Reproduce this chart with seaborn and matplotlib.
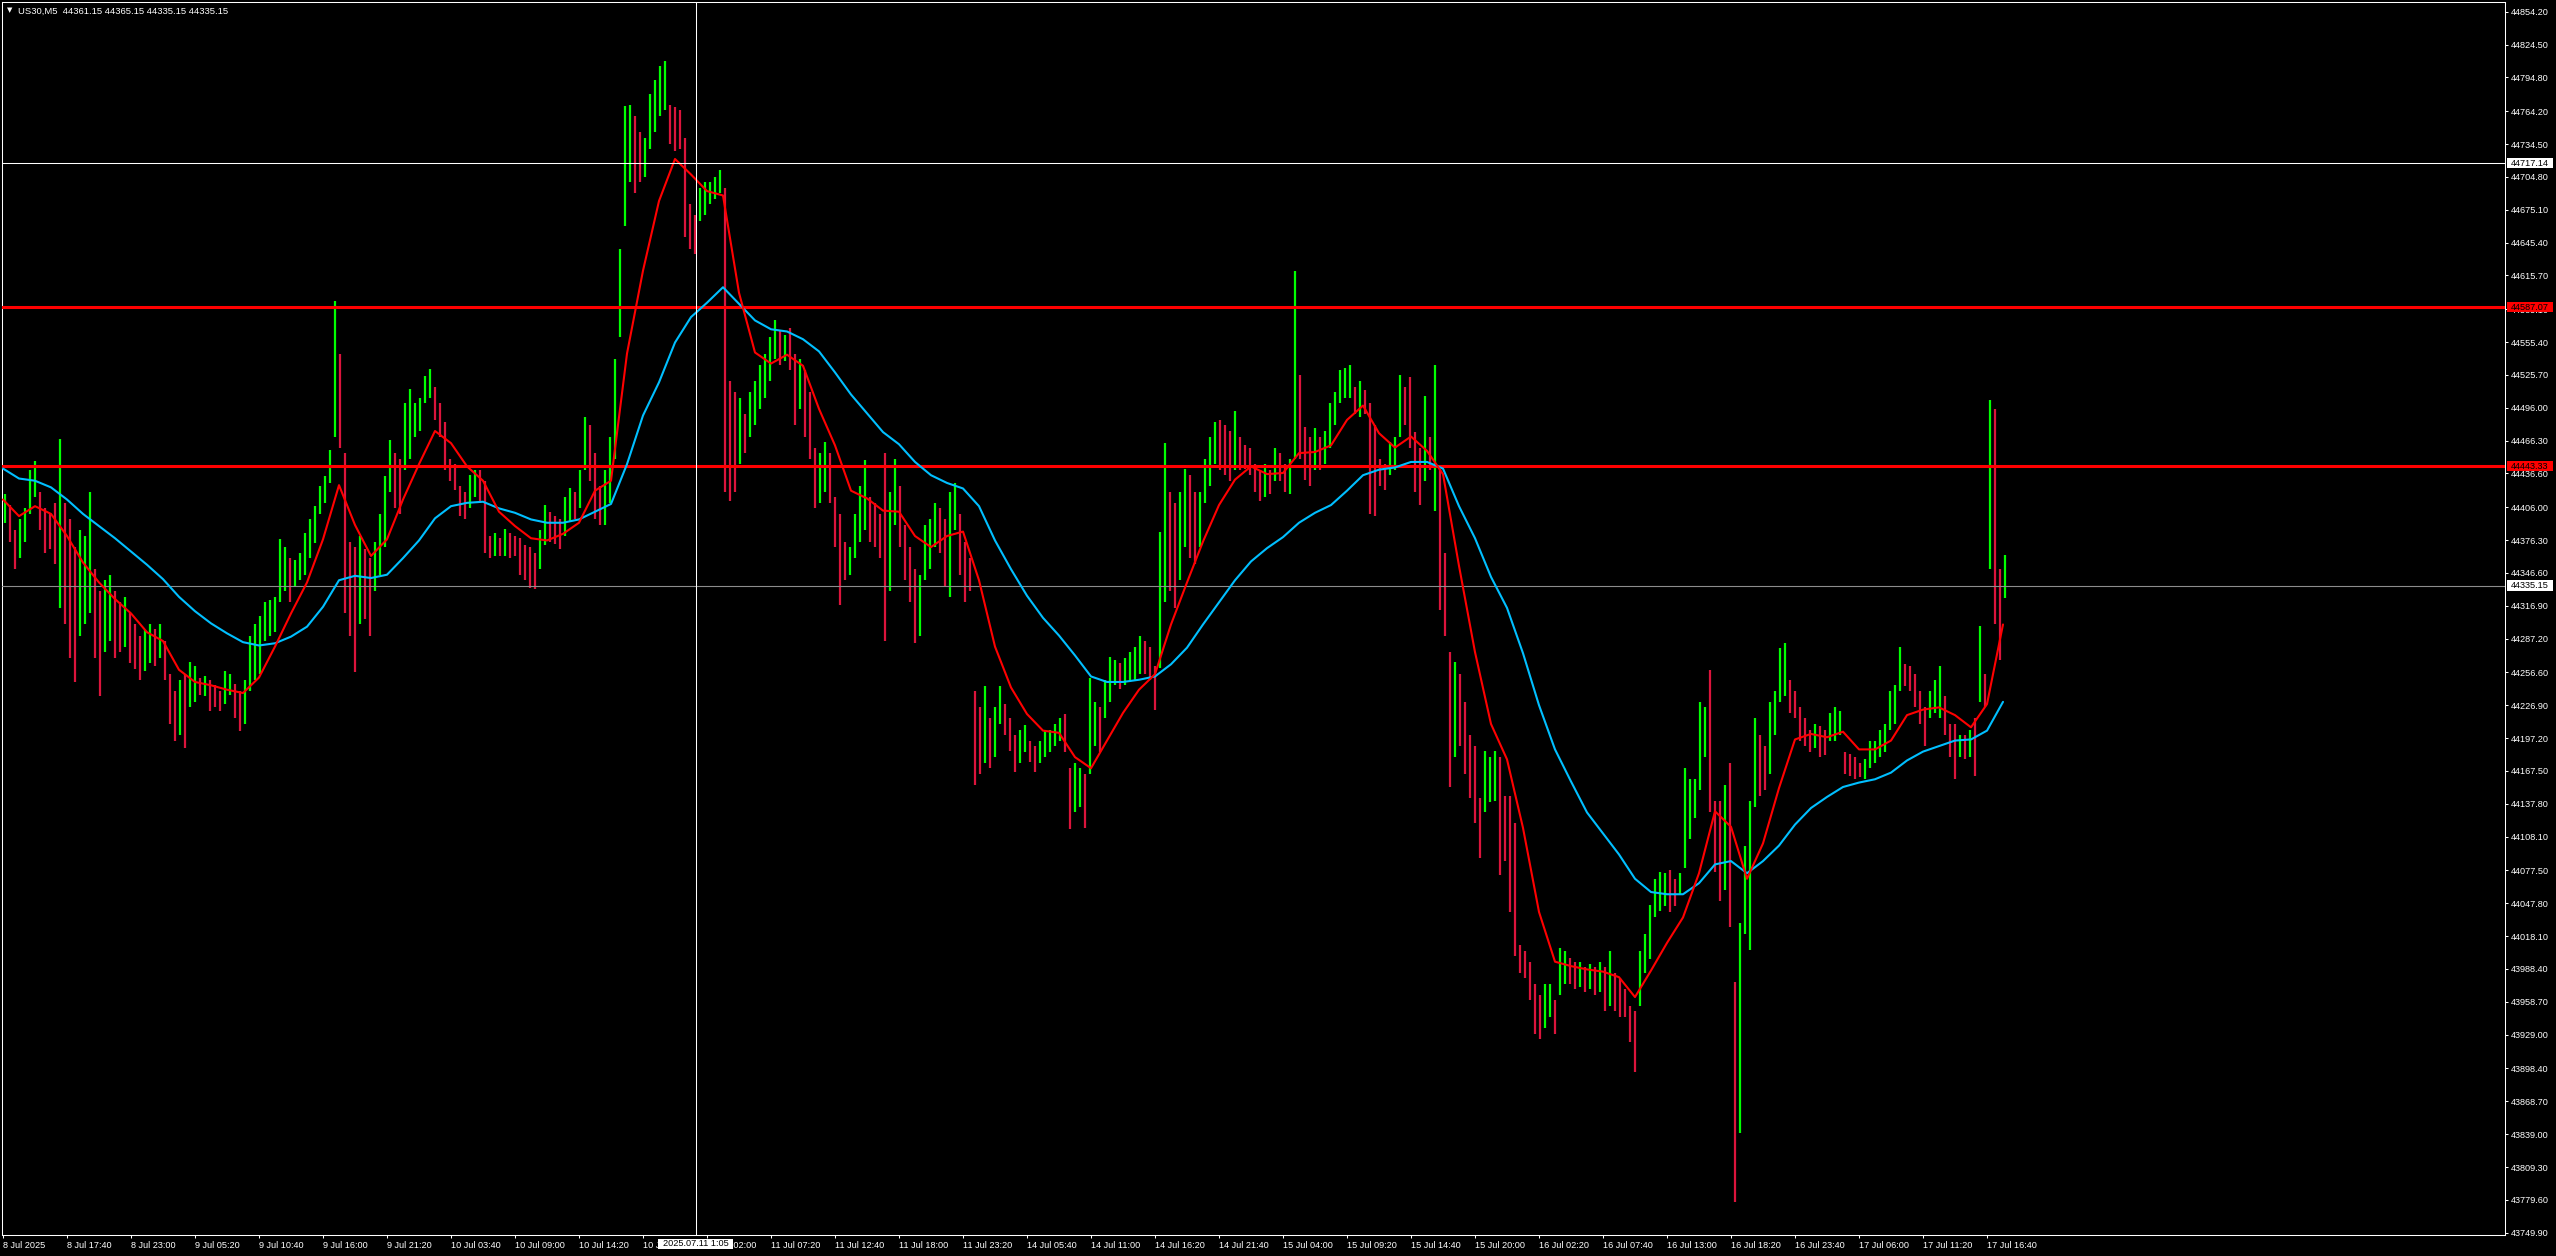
import numpy as np
import matplotlib
matplotlib.use("Agg")
import matplotlib.pyplot as plt
import seaborn as sns
from matplotlib.patches import Rectangle
from matplotlib.transforms import blended_transform_factory

# --- данные ---
chart_title = "US30,M5  44361.15 44365.15 44335.15 44335.15"

# high / low групп баров (по 5 баров M5 в группе)
bar_high = [
    44418, 44408, 44385, 44395, 44405, 44440, 44448, 44420, 44405, 44400,
    44410, 44468, 44410, 44395, 44370, 44385, 44380, 44420, 44350, 44330,
    44340, 44345, 44330, 44320, 44325, 44310, 44300, 44290, 44295, 44300,
    44296, 44300, 44285, 44255, 44240, 44250, 44255, 44266, 44262, 44252,
    44253, 44250, 44245, 44240, 44258, 44255, 44246, 44240, 44250, 44290,
    44300, 44308, 44320, 44322, 44325, 44377, 44370, 44360, 44358, 44365,
    44383, 44395, 44407, 44425, 44434, 44458, 44593, 44545, 44455, 44375,
    44370, 44380, 44368, 44360, 44375, 44400, 44434, 44467, 44455, 44450,
    44500, 44513, 44500, 44505, 44525, 44531, 44515, 44500, 44483, 44450,
    44445, 44425, 44420, 44435, 44440, 44440, 44430, 44380, 44383, 44378,
    44386, 44383, 44380, 44378, 44372, 44370, 44365, 44385, 44408, 44402,
    44398, 44395, 44415, 44423, 44420, 44440, 44488, 44480, 44455, 44425,
    44440, 44470, 44540, 44640, 44769, 44770, 44760, 44745, 44740, 44780,
    44792, 44805, 44810, 44770, 44768, 44765, 44740, 44680, 44670, 44695,
    44700, 44700, 44705, 44711, 44695, 44520, 44510, 44505, 44490, 44510,
    44520, 44535, 44545, 44560, 44575, 44565, 44562, 44568, 44545, 44540,
    44530, 44510, 44460, 44455, 44465, 44455, 44415, 44400, 44375, 44370,
    44400, 44425, 44449, 44415, 44410, 44400, 44455, 44420, 44450, 44425,
    44390, 44370, 44350, 44345, 44390, 44395, 44410, 44405, 44395, 44420,
    44428, 44400, 44375, 44360, 44240, 44225, 44244, 44215, 44225, 44244,
    44228, 44215, 44200, 44205, 44209, 44195, 44190, 44195, 44205, 44205,
    44210, 44215, 44219, 44170, 44175, 44170, 44165, 44252, 44230, 44225,
    44250, 44271, 44268, 44265, 44270, 44275, 44280, 44290, 44285, 44280,
    44262, 44384, 44464, 44420, 44410, 44420, 44441, 44435, 44420, 44420,
    44450, 44470, 44483, 44485, 44480, 44475, 44493, 44470, 44462, 44460,
    44445, 44440, 44445, 44440, 44460, 44455, 44445, 44450, 44620, 44526,
    44479, 44470, 44478, 44470, 44475, 44500, 44510, 44530, 44532, 44535,
    44515, 44520, 44512, 44500, 44480, 44450, 44445, 44465, 44470, 44526,
    44515, 44524, 44474, 44460, 44507, 44470, 44535, 44441, 44365, 44275,
    44266, 44255, 44230, 44200, 44190, 44143, 44186, 44180, 44186, 44180,
    44145, 44145, 44120, 44010, 44005, 43995, 43975, 43965, 43975, 43975,
    43960, 44007, 44005, 43998, 43995, 43995, 43990, 43993, 43990, 43995,
    43990, 44005, 43985, 43980, 43970, 43955, 43950, 44005, 44020, 44046,
    44070, 44076, 44075, 44078, 44070, 44075, 44170, 44160, 44160, 44230,
    44225, 44259, 44140, 44140, 44155, 44175, 43977, 44030, 44100, 44140,
    44215, 44200, 44190, 44230, 44240, 44279, 44283, 44250, 44240, 44225,
    44215, 44205, 44210, 44208, 44205, 44220, 44225, 44222, 44185, 44183,
    44180, 44175, 44178, 44195, 44195, 44205, 44210, 44240, 44245, 44280,
    44264, 44262, 44255, 44240, 44225, 44240, 44250, 44262, 44235, 44210,
    44210, 44200, 44200, 44205, 44215, 44299, 44255, 44503, 44495, 44350,
    44363,
]
bar_low = [
    44392, 44375, 44350, 44360, 44375, 44400, 44415, 44385, 44365, 44368,
    44355, 44315, 44300, 44270, 44248, 44290, 44300, 44310, 44270, 44235,
    44275, 44285, 44270, 44275, 44280, 44265, 44260, 44250, 44258, 44265,
    44262, 44270, 44250, 44210, 44195, 44200, 44188, 44225, 44230, 44236,
    44235, 44222, 44225, 44222, 44228, 44236, 44215, 44204, 44210, 44240,
    44250, 44255, 44285, 44290, 44293, 44320, 44330, 44320, 44335, 44340,
    44345, 44360, 44374, 44400, 44410, 44428, 44470, 44460, 44310, 44290,
    44257, 44300, 44305, 44290, 44330, 44345, 44370, 44420, 44405, 44400,
    44440, 44450, 44470, 44475, 44500, 44505, 44485, 44470, 44440, 44430,
    44422, 44398, 44395, 44405, 44415, 44410, 44365, 44360, 44362, 44362,
    44362, 44360, 44362, 44345, 44340, 44333, 44332, 44350, 44372, 44375,
    44373, 44368, 44380, 44393, 44395, 44405, 44440, 44430, 44395, 44390,
    44390, 44410, 44450, 44560, 44660, 44700, 44690, 44700, 44705, 44730,
    44745, 44760, 44765, 44735, 44728, 44730, 44650, 44640, 44635, 44665,
    44670, 44680, 44685, 44690, 44420, 44412, 44420, 44445, 44455, 44470,
    44480, 44495, 44505, 44520, 44540, 44535, 44538, 44530, 44480, 44495,
    44470, 44450, 44405, 44410, 44420, 44410, 44370, 44318, 44340, 44345,
    44360, 44375, 44385, 44375, 44370, 44360, 44285, 44330, 44390, 44370,
    44340, 44320, 44283, 44290, 44340, 44350, 44370, 44365, 44335, 44325,
    44385, 44345, 44320, 44330, 44155, 44165, 44175, 44170, 44180, 44210,
    44200, 44186, 44167, 44175, 44185, 44176, 44167, 44175, 44180, 44185,
    44190, 44195, 44185, 44115, 44130, 44135, 44116, 44165, 44190, 44185,
    44215, 44230, 44245, 44242, 44245, 44248, 44250, 44255, 44255, 44250,
    44223, 44261, 44320, 44330, 44315, 44340, 44370, 44360, 44355, 44370,
    44410, 44425, 44445, 44440, 44435, 44430, 44440, 44440, 44441, 44435,
    44420, 44412, 44415, 44418, 44430, 44430, 44420, 44418, 44450, 44450,
    44431, 44425, 44440, 44440, 44445, 44460, 44480, 44500, 44505, 44505,
    44490, 44488, 44490, 44400, 44398, 44425, 44422, 44435, 44440, 44470,
    44480, 44460, 44420, 44408, 44430, 44440, 44403, 44313, 44290, 44153,
    44180, 44190, 44165, 44143, 44120, 44089, 44130, 44139, 44140, 44073,
    44086, 44040, 44000, 43985, 43980, 43960, 43930, 43925, 43935, 43945,
    43930, 43965, 43975, 43975, 43970, 43972, 43968, 43970, 43965, 43968,
    43950, 43955, 43950, 43945, 43945, 43922, 43895, 43955, 43985, 43997,
    44035, 44041, 44045, 44040, 44045, 44055, 44080, 44106, 44125, 44150,
    44180, 44130, 44076, 44050, 44060, 44026, 43778, 43840, 44020, 44006,
    44135, 44145, 44150, 44165, 44200, 44230, 44235, 44220, 44215, 44195,
    44190, 44185, 44188, 44180, 44182, 44195, 44195, 44200, 44165, 44163,
    44160, 44162, 44160, 44170, 44175, 44180, 44185, 44205, 44210, 44240,
    44244, 44240, 44225, 44210, 44190, 44215, 44220, 44215, 44200, 44180,
    44160, 44180, 44178, 44180, 44163, 44230, 44225, 44350, 44300, 44268,
    44324,
]

# быстрая (красная) и медленная (голубая) скользящие средние, точки через 16 баров
ma_fast = [
    44413, 44398, 44407, 44400, 44380, 44356, 44338, 44323,
    44310, 44293, 44285, 44259, 44248, 44245, 44241, 44238,
    44252, 44280, 44310, 44338, 44377, 44426, 44390, 44362,
    44377, 44413, 44445, 44475, 44464, 44443, 44430, 44402,
    44389, 44378, 44376, 44382, 44392, 44421, 44430, 44545,
    44620, 44683, 44721, 44707, 44692, 44688, 44600, 44546,
    44536, 44544, 44534, 44495, 44462, 44421, 44414, 44403,
    44402, 44380, 44370, 44380, 44384, 44340, 44280, 44243,
    44219, 44204, 44202, 44180, 44170, 44195, 44220, 44241,
    44255, 44300, 44338, 44375, 44408, 44431, 44443, 44436,
    44437, 44455, 44456, 44462, 44485, 44498, 44473, 44460,
    44470, 44457, 44436, 44353, 44275, 44210, 44178, 44116,
    44040, 43995, 43991, 43988, 43986, 43981, 43963, 43987,
    44012, 44035, 44075, 44131, 44117, 44070, 44102, 44152,
    44196, 44201, 44198, 44203, 44187, 44187, 44195, 44218,
    44223, 44225, 44218, 44207, 44228, 44300,
]
ma_slow = [
    44441, 44432, 44430, 44424, 44413, 44400, 44389, 44378,
    44366, 44354, 44341, 44325, 44312, 44301, 44292, 44284,
    44281, 44283, 44289, 44298, 44316, 44340, 44344, 44342,
    44345, 44360, 44376, 44396, 44407, 44410, 44411, 44405,
    44401, 44395, 44392, 44392, 44395, 44402, 44409, 44445,
    44489, 44519, 44555, 44578, 44591, 44605, 44590, 44575,
    44567, 44565, 44558, 44547, 44528, 44508, 44491, 44474,
    44463, 44447, 44435, 44428, 44423, 44407, 44376, 44350,
    44326, 44306, 44290, 44272, 44253, 44248, 44248, 44250,
    44253, 44264, 44279, 44300, 44320, 44340, 44357, 44369,
    44379, 44392, 44401, 44408, 44421, 44435, 44440, 44442,
    44447, 44447, 44441, 44407, 44378, 44343, 44315, 44274,
    44227, 44187, 44158, 44130, 44111, 44092, 44070, 44058,
    44056, 44056, 44066, 44083, 44086, 44075, 44086, 44100,
    44119, 44134, 44144, 44153, 44157, 44160, 44166, 44177,
    44185, 44190, 44195, 44196, 44204, 44230,
]

# горизонтальные уровни
level_upper = 44587.07
level_lower = 44443.33
bid_price = 44335.15
cross_price = 44717.14
cross_bar = 693
cross_time = "2025.07.11 1:05"

time_labels = [
    "8 Jul 2025", "8 Jul 17:40", "8 Jul 23:00", "9 Jul 05:20", "9 Jul 10:40",
    "9 Jul 16:00", "9 Jul 21:20", "10 Jul 03:40", "10 Jul 09:00", "10 Jul 14:20",
    "10 Jul 19:40", "11 Jul 02:00", "11 Jul 07:20", "11 Jul 12:40", "11 Jul 18:00",
    "11 Jul 23:20", "14 Jul 05:40", "14 Jul 11:00", "14 Jul 16:20", "14 Jul 21:40",
    "15 Jul 04:00", "15 Jul 09:20", "15 Jul 14:40", "15 Jul 20:00", "16 Jul 02:20",
    "16 Jul 07:40", "16 Jul 13:00", "16 Jul 18:20", "16 Jul 23:40", "17 Jul 06:00",
    "17 Jul 11:20", "17 Jul 16:40",
]
price_ticks = [
    44854.20, 44824.50, 44794.80, 44764.20, 44734.50, 44704.80, 44675.10,
    44645.40, 44615.70, 44585.10, 44555.40, 44525.70, 44496.00, 44466.30,
    44436.60, 44406.00, 44376.30, 44346.60, 44316.90, 44287.20, 44256.60,
    44226.90, 44197.20, 44167.50, 44137.80, 44108.10, 44077.50, 44047.80,
    44018.10, 43988.40, 43958.70, 43929.00, 43898.40, 43868.70, 43839.00,
    43809.30, 43779.60, 43749.90,
]

W, H = 2556, 1256
UP = "#00ff00"
DOWN = "#dc143c"

sns.set_theme(style="dark", rc={"axes.facecolor": "black", "figure.facecolor": "black"})
plt.rcParams["font.family"] = ["Liberation Sans", "DejaVu Sans"]

fig = plt.figure(figsize=(W / 100, H / 100), dpi=100)
ax = fig.add_axes([2 / W, (H - 1235) / H, 2503 / W, 1233 / H])
ax.set_facecolor("black")
ax.grid(False)

# бары
hi = np.array(bar_high, dtype=float)
lo = np.array(bar_low, dtype=float)
mid = (hi + lo) / 2
prev = np.concatenate([[mid[0]], mid[:-1]])
colors = np.where(mid >= prev, UP, DOWN)
bar_x = np.arange(len(hi)) * 5 + 2
ax.vlines(bar_x, lo, hi, colors=colors, linewidth=1.6, zorder=2)

# уровни
ax.axhline(level_upper, color="red", lw=2.2, zorder=3)
ax.axhline(level_lower, color="red", lw=2.2, zorder=3)
ax.axhline(bid_price, color="#8c8c8c", lw=0.8, zorder=3)

# скользящие средние
ma_x = np.arange(len(ma_fast)) * 16
sns.lineplot(x=ma_x, y=ma_slow, ax=ax, color="#00bfff", linewidth=1.5, zorder=4)
sns.lineplot(x=ma_x, y=ma_fast, ax=ax, color="red", linewidth=1.5, zorder=4)

# перекрестие
ax.axhline(cross_price, color="white", lw=0.75, zorder=5)
ax.axvline(cross_bar, color="white", lw=0.75, zorder=5)

ax.set_xlim(-1, 2502)
ax.set_ylim(43747.8, 44863.0)
ax.set_xlabel("")
ax.set_ylabel("")

for s in ax.spines.values():
    s.set_color("white")
    s.set_linewidth(0.75)
    s.set_visible(True)

ax.set_xticks(np.arange(len(time_labels)) * 64)
ax.set_xticklabels(time_labels, ha="left")
ax.yaxis.tick_right()
ax.set_yticks(price_ticks)
ax.set_yticklabels([f"{v:.2f}" for v in price_ticks])
ax.tick_params(axis="both", colors="white", labelcolor="white", direction="out",
               width=0.75, labelsize=6.6)
ax.tick_params(axis="x", length=2.5, pad=1.5, bottom=True)
ax.tick_params(axis="y", length=2.2, pad=2, right=True, left=False)


# метки цены справа
def price_tag(price, text, face):
    tr = blended_transform_factory(fig.transFigure, ax.transData)
    k = 0.9044
    fig.add_artist(Rectangle((2507 / W, price - 5.2 * k), 46 / W, 10.5 * k,
                             transform=tr, facecolor=face, edgecolor="none", zorder=6))
    fig.text(2530 / W, price, text, transform=tr, ha="center", va="center",
             fontsize=6.6, color="black", zorder=7)


price_tag(cross_price, f"{cross_price:.2f}", "white")
price_tag(level_upper, f"{level_upper:.2f}", "red")
price_tag(level_lower, f"{level_lower:.2f}", "red")
price_tag(bid_price, f"{bid_price:.2f}", "white")

# метка времени перекрестия (закрывает подписи под собой, как в терминале)
trx = blended_transform_factory(ax.transData, fig.transFigure)
fig.add_artist(Rectangle((cross_bar - 38, (H - 1249) / H), 75, 10 / H,
                         transform=trx, facecolor="white", edgecolor="none", zorder=6))
fig.text(cross_bar, (H - 1244) / H, cross_time, transform=trx, ha="center",
         va="center", fontsize=6.6, color="black", zorder=7)

# заголовок
fig.text(9.5 / W, 1 - 10.5 / H, "\u25bc", fontsize=5, color="white", ha="center",
         va="center", family=["DejaVu Sans"])
fig.text(18 / W, 1 - 11 / H, chart_title, fontsize=6.8, color="white", va="center")

fig.savefig("out.png", dpi=100, facecolor="black")
